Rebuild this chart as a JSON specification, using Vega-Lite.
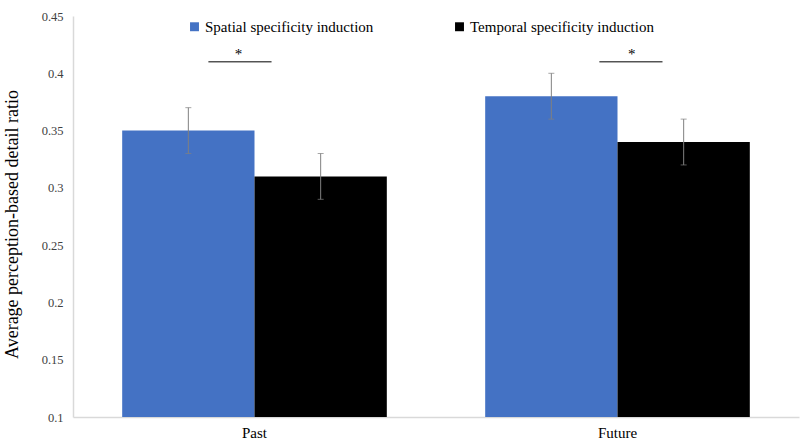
{
  "$schema": "https://vega.github.io/schema/vega-lite/v6.json",
  "autosize": "none",
  "width": 726,
  "height": 401,
  "padding": {"left": 73, "top": 16, "right": 1, "bottom": 29},
  "background": "white",
  "config": {
    "font": "Liberation Serif",
    "style": {
      "guide-label": {"font": "Liberation Serif"},
      "guide-title": {"font": "Liberation Serif"}
    },
    "view": {"stroke": null},
    "axis": {"labelFont": "Liberation Serif", "titleFont": "Liberation Serif", "labelColor": "#404040", "titleColor": "#000000", "grid": false, "ticks": false, "domainColor": "#d9d9d9", "domainWidth": 1.5},
    "axisY": {"labelFontSize": 12.5, "titleFontSize": 18, "titleFontWeight": "normal", "titlePadding": 20, "labelPadding": 10},
    "axisX": {"labelFontSize": 15, "labelColor": "#000000", "labelPadding": 8},
    "legend": {"labelFont": "Liberation Serif"}
  },
  "datasets": {
    "bars": [
      {"time": "Past", "condition": "Spatial specificity induction", "ratio": 0.35, "lo": 0.33, "hi": 0.37},
      {"time": "Past", "condition": "Temporal specificity induction", "ratio": 0.31, "lo": 0.29, "hi": 0.33},
      {"time": "Future", "condition": "Spatial specificity induction", "ratio": 0.38, "lo": 0.36, "hi": 0.40},
      {"time": "Future", "condition": "Temporal specificity induction", "ratio": 0.34, "lo": 0.32, "hi": 0.36}
    ],
    "sig": [
      {"start": 0.373, "end": 0.547, "star": 0.456, "level": 0.41, "starLevel": 0.4165, "label": "*"},
      {"start": 1.450, "end": 1.624, "star": 1.539, "level": 0.41, "starLevel": 0.4165, "label": "*"}
    ]
  },
  "resolve": {"scale": {"x": "independent"}},
  "layer": [
    {
      "data": {"name": "bars"},
      "encoding": {
        "x": {"field": "time", "type": "nominal", "sort": ["Past", "Future"], "title": null,
              "scale": {"paddingInner": 0.271, "paddingOuter": 0.1355},
              "axis": {"labelAngle": 0, "labelFontSize": 15, "labelFont": "Liberation Serif", "labelColor": "#000000", "labelPadding": 8}},
        "xOffset": {"field": "condition", "type": "nominal", "scale": {"paddingInner": 0, "paddingOuter": 0}}
      },
      "layer": [
        {
          "mark": {"type": "bar"},
          "encoding": {
            "y": {"field": "ratio", "type": "quantitative", "title": "Average perception-based detail ratio",
                  "scale": {"domain": [0.1, 0.45], "zero": false, "nice": false},
                  "axis": {"values": [0.1, 0.15, 0.2, 0.25, 0.3, 0.35, 0.4, 0.45], "format": ".2~f", "labelFont": "Liberation Serif", "titleFont": "Liberation Serif", "labelFontSize": 12.5, "labelPadding": 10, "titleFontSize": 18, "titleFontWeight": "normal", "titlePadding": 20, "titleY": 208}},
            "y2": {"datum": 0.1},
            "color": {"field": "condition", "type": "nominal", "title": null,
                      "scale": {"domain": ["Spatial specificity induction", "Temporal specificity induction"], "range": ["#4472C4", "#000000"]},
                      "legend": {"orient": "none", "direction": "horizontal", "legendX": 114, "legendY": 3,
                                 "symbolType": "square", "symbolSize": 80, "symbolStrokeWidth": 0, "labelFontSize": 15,
                                 "labelFont": "Liberation Serif", "labelColor": "#000000", "labelOffset": 3, "columnPadding": 78, "labelLimit": 400}}
          }
        },
        {
          "mark": {"type": "rule", "color": "#808080", "strokeWidth": 1},
          "encoding": {"y": {"field": "lo", "type": "quantitative"}, "y2": {"field": "hi"}}
        },
        {
          "mark": {"type": "tick", "color": "#808080", "thickness": 1, "size": 6, "orient": "horizontal"},
          "encoding": {"y": {"field": "lo", "type": "quantitative"}}
        },
        {
          "mark": {"type": "tick", "color": "#808080", "thickness": 1, "size": 6, "orient": "horizontal"},
          "encoding": {"y": {"field": "hi", "type": "quantitative"}}
        }
      ]
    },
    {
      "data": {"name": "sig"},
      "layer": [
        {
          "mark": {"type": "rule", "color": "#000000", "strokeWidth": 1},
          "encoding": {
            "x": {"field": "start", "type": "quantitative", "scale": {"domain": [0, 2], "nice": false, "zero": false}, "axis": null},
            "x2": {"field": "end"},
            "y": {"field": "level", "type": "quantitative"}
          }
        },
        {
          "mark": {"type": "text", "fontSize": 15, "font": "Liberation Serif", "color": "#000000", "baseline": "middle"},
          "encoding": {
            "x": {"field": "star", "type": "quantitative", "scale": {"domain": [0, 2], "nice": false, "zero": false}, "axis": null},
            "y": {"field": "starLevel", "type": "quantitative"},
            "text": {"field": "label"}
          }
        }
      ]
    }
  ]
}
